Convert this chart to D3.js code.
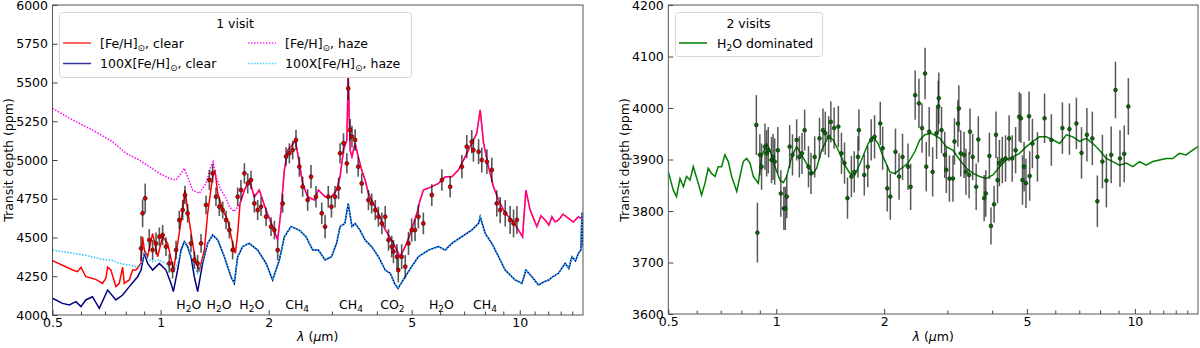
<!DOCTYPE html>
<html>
<head>
<meta charset="utf-8">
<script src="https://cdn.jsdelivr.net/npm/d3@7"></script>
<style>
body{margin:0;background:#fff;}
text{font-family:"DejaVu Sans",sans-serif;font-size:12.5px;fill:#000;}
</style>
</head>
<body>
<svg id="chart" width="1200" height="348"></svg>
<script>
// tick values (micron, log axis) and depth ticks
var wlTicks=[0.5,1,2,5,10];
var wlMinor=[0.6,0.7,0.8,0.9,3,4,6,7,8,9,11,12,13,14];
var depth1Ticks=[4000,4250,4500,4750,5000,5250,5500,5750,6000];
var depth2Ticks=[3600,3700,3800,3900,4000,4100,4200];

// 1 visit: models [wavelength, ppm]
var solarClear=[[0.5,4351],[0.569,4290],[0.587,4280],[0.6,4308],[0.619,4247],[0.66,4230],[0.689,4204],[0.704,4237],[0.712,4308],[0.727,4290],[0.751,4183],[0.767,4204],[0.784,4308],[0.792,4204],[0.818,4226],[0.836,4290],[0.854,4290],[0.882,4333],[0.891,4505],[0.901,4419],[0.92,4376],[0.95,4527],[0.981,4376],[1.013,4505],[1.046,4462],[1.076,4333],[1.085,4280],[1.123,4505],[1.152,4677],[1.169,4806],[1.189,4677],[1.228,4462],[1.255,4333],[1.282,4290],[1.324,4419],[1.352,4656],[1.396,4892],[1.417,4935],[1.442,4785],[1.489,4677],[1.537,4613],[1.587,4462],[1.615,4398],[1.639,4527],[1.664,4720],[1.711,4806],[1.766,4871],[1.824,4763],[1.883,4806],[1.966,4677],[2.051,4570],[2.118,4484],[2.164,4677],[2.211,4935],[2.259,5064],[2.307,5086],[2.372,5129],[2.434,4978],[2.486,4849],[2.567,4763],[2.679,4742],[2.75,4806],[2.87,4763],[2.99,4763],[3.09,4806],[3.16,4892],[3.23,5064],[3.30,5129],[3.33,5540],[3.37,5064],[3.41,5022],[3.48,5108],[3.55,5022],[3.63,4935],[3.71,4871],[3.79,4785],[3.91,4720],[4.04,4656],[4.18,4570],[4.28,4527],[4.45,4462],[4.55,4419],[4.64,4376],[4.80,4441],[5.00,4548],[5.17,4656],[5.28,4742],[5.39,4806],[5.69,4828],[5.94,4849],[6.20,4892],[6.47,4892],[6.75,4935],[7.05,5022],[7.35,5108],[7.59,5172],[7.76,5323],[7.93,5108],[8.18,4957],[8.45,4828],[8.73,4742],[9.11,4656],[9.51,4613],[9.92,4548],[10.18,4505],[10.40,4806],[10.69,4677],[11.16,4570],[11.45,4640],[11.77,4613],[12.05,4580],[12.29,4634],[12.55,4600],[12.82,4613],[13.2,4650],[13.67,4624],[14.1,4600],[14.57,4634],[15.0,4613]];
var metalClear=[[0.5,4108],[0.533,4075],[0.557,4065],[0.581,4086],[0.6,4054],[0.619,4097],[0.646,4118],[0.675,4043],[0.712,4161],[0.751,4097],[0.784,4129],[0.818,4183],[0.863,4247],[0.882,4290],[0.901,4398],[0.92,4333],[0.95,4290],[0.992,4333],[1.035,4290],[1.069,4204],[1.085,4151],[1.115,4290],[1.14,4419],[1.164,4473],[1.189,4441],[1.215,4376],[1.241,4247],[1.268,4151],[1.309,4333],[1.352,4462],[1.396,4516],[1.442,4484],[1.505,4376],[1.57,4247],[1.604,4204],[1.639,4376],[1.692,4441],[1.766,4462],[1.863,4419],[1.966,4333],[2.051,4226],[2.141,4355],[2.211,4505],[2.307,4570],[2.434,4548],[2.54,4505],[2.651,4419],[2.75,4419],[2.87,4355],[2.99,4376],[3.09,4462],[3.16,4570],[3.26,4591],[3.33,4720],[3.41,4570],[3.48,4591],[3.59,4548],[3.71,4484],[3.87,4441],[4.04,4376],[4.22,4290],[4.36,4269],[4.48,4204],[4.58,4172],[4.80,4247],[5.00,4312],[5.22,4376],[5.57,4419],[5.94,4441],[6.20,4419],[6.47,4462],[6.90,4505],[7.35,4548],[7.68,4591],[7.76,4634],[8.01,4527],[8.36,4462],[8.73,4376],[9.11,4290],[9.71,4226],[10.14,4204],[10.40,4290],[10.81,4247],[11.28,4194],[11.7,4215],[12.03,4226],[12.4,4250],[12.82,4269],[13.38,4333],[13.7,4300],[13.97,4376],[14.3,4350],[14.57,4398],[14.8,4420],[14.9,4660],[15.0,4440]];
// haze models, only where they leave the clear ones
var solarHazeShort=[[0.5,5333],[0.569,5258],[0.646,5194],[0.735,5118],[0.801,5043],[0.872,5000],[0.93,4957],[0.992,4914],[1.057,4882],[1.104,4871],[1.14,4914],[1.164,4946],[1.189,4892],[1.228,4806],[1.282,4785],[1.338,4849],[1.381,4957],[1.40,4989],[1.426,4892],[1.473,4806],[1.521,4753],[1.554,4699],[1.604,4667],[1.639,4699]];
var metalHazeShort=[[0.5,4419],[0.557,4402],[0.619,4385],[0.689,4359],[0.735,4351],[0.767,4333],[0.818,4323],[0.854,4312],[0.882,4323],[0.901,4398],[0.92,4366],[0.95,4344],[0.99,4355],[1.035,4333],[1.069,4290],[1.092,4280],[1.123,4355],[1.164,4473],[1.215,4387],[1.241,4312],[1.268,4269],[1.309,4344]];
// simulated data [wavelength, ppm, err]
var visit1=[[0.882,4430,80],[0.891,4656,90],[0.906,4753,95],[0.93,4484,70],[0.95,4419,65],[0.971,4462,70],[0.992,4505,60],[1.013,4516,65],[1.035,4441,60],[1.057,4333,60],[1.08,4290,55],[1.104,4419,60],[1.127,4613,60],[1.152,4677,65],[1.169,4774,60],[1.189,4656,60],[1.215,4462,55],[1.241,4355,55],[1.268,4333,55],[1.296,4462,60],[1.338,4710,60],[1.367,4871,65],[1.396,4914,60],[1.426,4763,60],[1.457,4699,60],[1.489,4677,55],[1.521,4613,60],[1.554,4548,55],[1.587,4419,60],[1.639,4763,60],[1.674,4806,65],[1.711,4914,65],[1.748,4849,65],[1.785,4871,60],[1.824,4720,60],[1.863,4677,65],[1.904,4699,60],[1.966,4634,60],[2.03,4570,60],[2.074,4548,60],[2.118,4419,65],[2.187,4720,60],[2.235,5022,60],[2.283,5043,65],[2.332,5064,60],[2.382,5129,65],[2.434,4957,65],[2.486,4828,65],[2.567,4742,70],[2.623,4892,75],[2.708,4763,70],[2.81,4656,70],[2.87,4570,75],[2.93,4763,70],[2.99,4699,70],[3.06,4763,70],[3.13,4817,70],[3.16,5043,65],[3.23,5108,65],[3.30,4978,65],[3.33,5462,75],[3.37,5194,70],[3.41,5151,70],[3.48,5129,70],[3.55,4957,65],[3.63,4849,65],[3.79,4742,65],[3.87,4720,65],[3.96,4677,65],[4.04,4634,65],[4.13,4591,70],[4.22,4634,70],[4.31,4484,70],[4.40,4441,70],[4.45,4409,75],[4.55,4376,80],[4.59,4290,80],[4.69,4376,80],[4.80,4312,75],[4.90,4462,75],[5.00,4548,75],[5.11,4548,70],[5.22,4634,75],[5.39,4591,70],[5.69,4774,70],[6.07,4871,70],[6.40,4828,70],[6.90,4957,75],[7.12,5086,75],[7.35,5118,75],[7.43,5064,75],[7.68,5054,80],[7.84,5000,80],[8.10,4989,80],[8.36,4935,80],[8.63,4720,85],[8.82,4677,85],[9.11,4656,85],[9.40,4613,90],[9.61,4591,90],[9.82,4613,90]];
var molNames=["H_2O","H_2O","H_2O","CH_4","CH_4","CO_2","H_2O","CH_4"];
var molWl=[1.198,1.454,1.795,2.40,3.39,4.42,6.05,8.0];

// 2 visits
var h2oModel=[[0.5,3876],[0.516,3841],[0.527,3828],[0.539,3863],[0.551,3847],[0.562,3867],[0.575,3860],[0.587,3886],[0.606,3854],[0.619,3831],[0.633,3854],[0.646,3883],[0.66,3873],[0.675,3867],[0.689,3886],[0.704,3886],[0.719,3909],[0.735,3896],[0.751,3867],[0.776,3838],[0.792,3867],[0.809,3896],[0.827,3902],[0.845,3893],[0.863,3867],[0.891,3854],[0.91,3905],[0.94,3931],[0.96,3918],[0.992,3886],[1.024,3860],[1.046,3855],[1.069,3867],[1.104,3905],[1.14,3925],[1.177,3909],[1.228,3886],[1.268,3873],[1.296,3883],[1.338,3918],[1.396,3944],[1.442,3938],[1.489,3918],[1.554,3889],[1.604,3873],[1.657,3870],[1.729,3899],[1.804,3931],[1.863,3944],[1.924,3931],[1.987,3905],[2.074,3876],[2.141,3873],[2.235,3883],[2.332,3893],[2.434,3915],[2.513,3938],[2.595,3948],[2.708,3951],[2.86,3941],[2.98,3925],[3.11,3918],[3.25,3899],[3.39,3883],[3.54,3873],[3.69,3867],[3.85,3863],[4.02,3870],[4.20,3886],[4.38,3899],[4.57,3905],[4.77,3912],[4.98,3925],[5.20,3935],[5.42,3944],[5.66,3944],[5.91,3938],[6.17,3931],[6.44,3948],[6.72,3944],[7.01,3935],[7.32,3941],[7.64,3931],[7.97,3918],[8.32,3902],[8.68,3896],[9.06,3889],[9.46,3893],[9.87,3886],[10.30,3896],[10.75,3889],[11.22,3896],[11.71,3899],[12.22,3902],[12.75,3902],[13.31,3912],[13.89,3909],[14.49,3918],[15.0,3925]];
var visit2=[[0.88,3967,58],[0.886,3758,58],[0.90,3909,40],[0.91,3886,45],[0.93,3925,45],[0.94,3912,45],[0.95,3918,45],[0.97,3899,45],[0.98,3905,45],[0.99,3896,45],[1.01,3918,45],[1.03,3834,45],[1.05,3805,42],[1.06,3805,42],[1.07,3828,42],[1.09,3925,42],[1.11,3909,40],[1.14,3938,40],[1.16,3905,40],[1.18,3912,40],[1.20,3957,40],[1.23,3886,40],[1.25,3873,40],[1.28,3905,40],[1.32,3941,40],[1.35,3957,42],[1.37,3951,42],[1.40,3944,40],[1.42,3973,40],[1.45,3961,40],[1.49,3964,40],[1.52,3912,40],[1.55,3893,40],[1.58,3825,40],[1.62,3867,40],[1.65,3876,40],[1.69,3905,40],[1.70,3957,40],[1.76,3870,40],[1.80,3886,40],[1.84,3938,40],[1.88,3944,42],[1.95,3970,42],[1.98,3922,42],[2.04,3844,45],[2.08,3828,45],[2.15,3915,45],[2.20,3867,45],[2.25,3905,45],[2.33,3886,45],[2.37,3847,45],[2.44,4025,48],[2.50,4009,48],[2.55,3961,48],[2.60,4067,50],[2.62,3886,48],[2.67,3954,48],[2.73,3876,48],[2.80,3951,50],[2.83,4003,50],[2.84,4019,50],[2.89,3957,45],[2.95,3909,45],[2.98,3880,45],[3.04,3863,45],[3.11,3863,45],[3.14,3935,45],[3.21,3970,45],[3.23,3999,45],[3.27,3912,45],[3.34,3909,45],[3.38,3876,45],[3.45,3870,45],[3.47,3954,45],[3.53,3905,45],[3.61,3847,45],[3.66,3939,45],[3.80,3825,45],[3.84,3834,45],[3.93,3907,45],[3.97,3771,36],[4.05,3813,36],[4.10,3948,45],[4.14,3860,45],[4.19,3893,45],[4.27,3899,45],[4.36,3902,45],[4.46,3941,45],[4.55,3902,45],[4.65,3918,45],[4.76,3983,48],[4.81,3980,48],[4.86,3860,48],[4.91,3886,48],[4.97,3854,48],[5.07,3984,48],[5.09,3868,48],[5.18,3931,48],[5.35,3905,48],[5.60,3980,48],[5.85,3938,50],[6.28,3961,50],[6.57,3959,50],[6.87,3970,50],[7.10,3913,50],[7.35,3948,52],[7.61,3941,52],[7.86,3819,50],[8.12,3896,52],[8.33,3859,52],[8.59,3909,55],[8.83,4035,55],[9.09,3902,55],[9.34,3911,55],[9.59,4003,55]];

var svg=d3.select("#chart");
var defs=svg.append("defs");

// text with "_x" meaning subscript x
function rich(t,s){
  var parts=s.split("_");
  t.append("tspan").text(parts[0]);
  for(var i=1;i<parts.length;i++){
    t.append("tspan").attr("dy",3).style("font-size","9px").text(parts[i][0]);
    t.append("tspan").attr("dy",-3).text(parts[i].slice(1));
  }
  return t;
}

function panel(id,xr,yr,yTicks){
  var x=d3.scaleLog().domain([0.5,15]).range(xr);
  var y=d3.scaleLinear().domain(d3.extent(yTicks)).range(yr);
  defs.append("clipPath").attr("id","clip"+id).append("rect")
    .attr("x",xr[0]).attr("y",yr[1]).attr("width",xr[1]-xr[0]).attr("height",yr[0]-yr[1]);
  var g=svg.append("g");
  var plot=g.append("g").attr("clip-path","url(#clip"+id+")");
  return {x:x,y:y,g:g,plot:plot,yTicks:yTicks};
}

function axes(p){
  var x=p.x,y=p.y,r=x.range(),ry=y.range();
  var xa=p.g.append("g").attr("transform","translate(0,"+ry[0]+")")
    .call(d3.axisBottom(x).tickValues(wlTicks).tickFormat(function(d){return d;}).tickSizeInner(-5).tickSizeOuter(0).tickPadding(3.5));
  var xm=p.g.append("g").attr("transform","translate(0,"+ry[0]+")")
    .call(d3.axisBottom(x).tickValues(wlMinor).tickFormat("").tickSizeInner(-3.5).tickSizeOuter(0));
  var ya=p.g.append("g").attr("transform","translate("+r[0]+",0)")
    .call(d3.axisLeft(y).tickValues(p.yTicks).tickFormat(function(d){return d;}).tickSizeInner(-5).tickSizeOuter(0).tickPadding(4.5));
  [xa,xm,ya].forEach(function(a){
    a.select(".domain").remove();
    a.attr("font-size",null).attr("font-family",null);
    a.selectAll("line").attr("stroke","#444");
  });
  p.g.append("rect").attr("x",r[0]).attr("y",ry[1]).attr("width",r[1]-r[0]).attr("height",ry[0]-ry[1])
    .attr("fill","none").attr("stroke","#555").attr("stroke-width",1);
  p.g.append("text").attr("x",(r[0]+r[1])/2).attr("y",341).attr("text-anchor","middle")
    .html("<tspan font-style='italic'>λ</tspan> (<tspan font-style='italic'>μ</tspan>m)");
}

function errbars(p,data,col,w,op){
  p.plot.append("g").selectAll("line").data(data).enter().append("line")
    .attr("x1",function(d){return p.x(d[0]);}).attr("x2",function(d){return p.x(d[0]);})
    .attr("y1",function(d){return p.y(d[1]-d[2]);}).attr("y2",function(d){return p.y(d[1]+d[2]);})
    .attr("stroke",col).attr("stroke-width",w).attr("opacity",op);
}

// ---------- left panel ----------
var p1=panel(1,[52.5,583],[315,5],depth1Ticks);
var line1=d3.line().x(function(d){return p1.x(d[0]);}).y(function(d){return p1.y(d[1]);});
var solarHaze=solarHazeShort.concat(solarClear.filter(function(d){return d[0]>=1.664;}));
var metalHaze=metalHazeShort.concat(metalClear.filter(function(d){return d[0]>=1.352;}));

p1.plot.append("path").datum(solarClear).attr("d",line1).attr("fill","none").attr("stroke","#ff0000").attr("stroke-width",1.5);
p1.plot.append("path").datum(metalClear).attr("d",line1).attr("fill","none").attr("stroke","#000080").attr("stroke-width",1.5);
p1.plot.append("path").datum(solarHaze).attr("d",line1).attr("fill","none").attr("stroke","#ff00ff").attr("stroke-width",1.5).attr("stroke-dasharray","1.5,1.5");
p1.plot.append("path").datum(metalHaze).attr("d",line1).attr("fill","none").attr("stroke","#1ec8ff").attr("stroke-width",1.5).attr("stroke-dasharray","1.5,1.5");
errbars(p1,visit1,"#111",1.6,0.7);
p1.plot.append("g").selectAll("circle").data(visit1).enter().append("circle")
  .attr("cx",function(d){return p1.x(d[0]);}).attr("cy",function(d){return p1.y(d[1]);})
  .attr("r",2).attr("fill","#dd0000").attr("stroke","#300").attr("stroke-width",0.6);

p1.g.selectAll(".mol").data(molNames).enter().append("text").attr("class","mol")
  .attr("x",function(d,i){return p1.x(molWl[i]);}).attr("y",309).attr("text-anchor","middle")
  .each(function(d){rich(d3.select(this),d);});

axes(p1);
p1.g.append("text").attr("transform","translate(13,160) rotate(-90)").attr("text-anchor","middle").text("Transit depth (ppm)");

// legend 1
var lg1=svg.append("g");
lg1.append("rect").attr("x",59.5).attr("y",12.5).attr("width",352).attr("height",65).attr("rx",3)
  .attr("fill","#fff").attr("fill-opacity",0.8).attr("stroke","#d6d6d6");
lg1.append("text").attr("x",235).attr("y",28).attr("text-anchor","middle").text("1 visit");
var leg1=[
  {t:"[Fe/H]_⊙, clear",c:"#ff0000",dash:null,col:0,row:0},
  {t:"100X[Fe/H]_⊙, clear",c:"#000080",dash:null,col:0,row:1},
  {t:"[Fe/H]_⊙, haze",c:"#ff00ff",dash:"1.5,1.5",col:1,row:0},
  {t:"100X[Fe/H]_⊙, haze",c:"#1ec8ff",dash:"1.5,1.5",col:1,row:1}
];
leg1.forEach(function(e){
  var hx=[63,248][e.col],hy=[43,63.5][e.row];
  lg1.append("line").attr("x1",hx).attr("x2",hx+28).attr("y1",hy).attr("y2",hy)
    .attr("stroke",e.c).attr("stroke-width",1.5).attr("stroke-dasharray",e.dash).attr("opacity",0.8);
  rich(lg1.append("text").attr("x",hx+37).attr("y",hy+4.5),e.t);
});

// ---------- right panel ----------
var p2=panel(2,[668.3,1198],[314,5],depth2Ticks);
var line2=d3.line().x(function(d){return p2.x(d[0]);}).y(function(d){return p2.y(d[1]);});
p2.plot.append("path").datum(h2oModel).attr("d",line2).attr("fill","none").attr("stroke","#008000").attr("stroke-width",1.5);
errbars(p2,visit2,"#222",1.5,0.75);
p2.plot.append("g").selectAll("circle").data(visit2).enter().append("circle")
  .attr("cx",function(d){return p2.x(d[0]);}).attr("cy",function(d){return p2.y(d[1]);})
  .attr("r",1.9).attr("fill","#0a6a0a").attr("stroke","#002200").attr("stroke-width",0.6);
axes(p2);
p2.g.append("text").attr("transform","translate(629,160) rotate(-90)").attr("text-anchor","middle").text("Transit depth (ppm)");

var lg2=svg.append("g");
lg2.append("rect").attr("x",675.5).attr("y",12.5).attr("width",147).attr("height",44).attr("rx",3)
  .attr("fill","#fff").attr("fill-opacity",0.8).attr("stroke","#d6d6d6");
lg2.append("text").attr("x",748.5).attr("y",28).attr("text-anchor","middle").text("2 visits");
lg2.append("line").attr("x1",679).attr("x2",707).attr("y1",43).attr("y2",43).attr("stroke","#008000").attr("stroke-width",1.5);
rich(lg2.append("text").attr("x",717).attr("y",47.5),"H_2O dominated");
</script>
</body>
</html>
